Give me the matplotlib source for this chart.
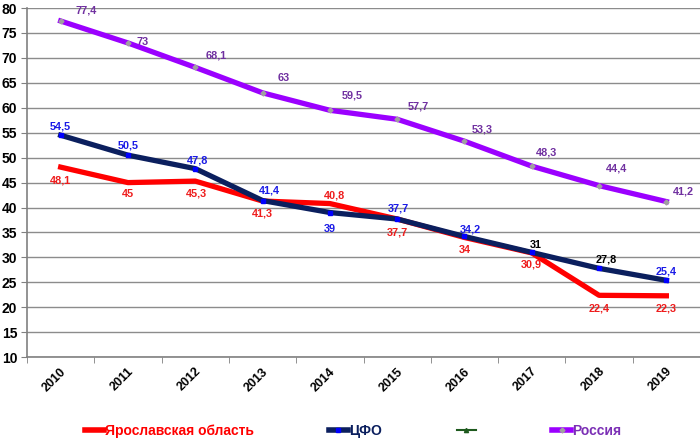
import matplotlib
matplotlib.use("Agg")
import matplotlib.pyplot as plt
import matplotlib.transforms as mtransforms
from matplotlib.lines import Line2D
import numpy as np

plt.rcParams['font.family'] = ['Liberation Sans', 'DejaVu Sans']

years = ['2010', '2011', '2012', '2013', '2014', '2015', '2016', '2017', '2018', '2019']
yaroslavl = [48.1, 45, 45.3, 41.3, 40.8, 37.7, 34, 30.9, 22.4, 22.3]
cfo = [54.5, 50.5, 47.8, 41.4, 39, 37.7, 34.2, 31, 27.8, 25.4]
russia = [77.4, 73, 68.1, 63, 59.5, 57.7, 53.3, 48.3, 44.4, 41.2]
yaroslavl_lbl = ['48,1', '45', '45,3', '41,3', '40,8', '37,7', '34', '30,9', '22,4', '22,3']
cfo_lbl = ['54,5', '50,5', '47,8', '41,4', '39', '37,7', '34,2', '31', '27,8', '25,4']
russia_lbl = ['77,4', '73', '68,1', '63', '59,5', '57,7', '53,3', '48,3', '44,4', '41,2']
series_names = ['Ярославская область', 'ЦФО', '', 'Россия']

RED = '#FF0000'
NAVY = '#0B1F5E'
VIOLET = '#9B00FF'
RED_T = '#EE1C1C'
BLUE_T = '#1A1AE6'
PURPLE_T = '#7030A0'
GREEN = '#1E5A1E'

fig = plt.figure(figsize=(7.0, 4.47), dpi=100)
ax = fig.add_axes([0.0386, 0.201, 0.9614, 0.781])

x = np.arange(len(years))
ax.plot(x, yaroslavl, color=RED, lw=3.8, zorder=3, solid_joinstyle='round')
ax.plot(x, cfo, color=NAVY, lw=3.8, zorder=4, marker='s', ms=3.5,
        mfc='#0000FF', mec='#0000FF', solid_joinstyle='round')
ax.plot(x, russia, color=VIOLET, lw=3.8, zorder=5, marker='D', ms=2.5,
        mfc='#A0A0A0', mec='#A0A0A0', solid_joinstyle='round')

ax.set_xlim(-0.5, 9.5)
ax.set_ylim(10, 80)
ax.set_yticks(range(10, 81, 5))
ax.set_yticklabels([str(v) for v in range(10, 81, 5)], fontweight='bold', fontsize=10)
ax.yaxis.grid(True, color='#8C8C8C', lw=1.0)
ax.set_axisbelow(True)
ax.set_xticks(x)
ax.set_xticks(np.arange(-0.5, 10, 1), minor=True)
ax.tick_params(axis='x', which='major', length=0, pad=6)
ax.tick_params(axis='x', which='minor', length=4, color='#808080', direction='out')
ax.tick_params(axis='y', length=4, color='#808080', pad=3)
labs = ax.set_xticklabels(years, rotation=45, ha='right', fontweight='bold', fontsize=9)
offset = mtransforms.ScaledTranslation(8 / 100, 0, fig.dpi_scale_trans)
for lab in labs:
    lab.set_transform(lab.get_transform() + offset)

for s in ['top', 'right']:
    ax.spines[s].set_visible(False)
for s in ['left', 'bottom']:
    ax.spines[s].set_color('#808080')
    ax.spines[s].set_linewidth(1.2)

fs = 7.8
px = 0.72
# Russia labels: upper right
rus_off = [(26, 11), (15, 1), (21, 12), (21, 15), (22, 15), (21, 13), (18, 12), (15, 14), (18, 17), (17, 10)]
for i, (v, t) in enumerate(zip(russia, russia_lbl)):
    dx, dy = rus_off[i]
    ax.annotate(t, (i, v), xytext=(dx * px, dy * px), textcoords='offset points',
                ha='center', va='center', color=PURPLE_T, fontsize=fs, fontweight='bold')
# CFO labels
cfo_off = [(0, 9), (0, 10), (2, 8), (7, 10), (0, -16), (1, 11), (6, 7), (4, 7), (7, 9), (0, 9)]
cfo_col = [BLUE_T] * 7 + ['black', 'black', BLUE_T]
for i, (v, t) in enumerate(zip(cfo, cfo_lbl)):
    dx, dy = cfo_off[i]
    ax.annotate(t, (i, v), xytext=(dx * px, dy * px), textcoords='offset points',
                ha='center', va='center', color=cfo_col[i], fontsize=fs, fontweight='bold')
# Yaroslavl labels
yar_off = [(0, -13), (0, -11), (1, -12), (0, -12), (5, 8), (0, -13), (0, -13), (0, -12), (0, -13), (0, -13)]
for i, (v, t) in enumerate(zip(yaroslavl, yaroslavl_lbl)):
    dx, dy = yar_off[i]
    ax.annotate(t, (i, v), xytext=(dx * px, dy * px), textcoords='offset points',
                ha='center', va='center', color=RED_T, fontsize=fs, fontweight='bold')

handles = [
    Line2D([], [], color=RED, lw=4),
    Line2D([], [], color=NAVY, lw=4, marker='s', ms=3, mfc='#0000FF', mec='#0000FF'),
    Line2D([], [], color=GREEN, lw=1.5, marker='^', ms=3),
    Line2D([], [], color=VIOLET, lw=4, marker='D', ms=2.5, mfc='#A0A0A0', mec='#A0A0A0'),
]
leg = fig.legend(handles, series_names, loc='center', bbox_to_anchor=(0.504, 0.035),
                 ncol=4, frameon=False, handlelength=1.4, handletextpad=0.05,
                 columnspacing=5.4, prop={'weight': 'bold', 'size': 10})
for txt, c in zip(leg.get_texts(), [RED, NAVY, GREEN, '#7B2FB5']):
    txt.set_color(c)

fig.savefig('out.png', dpi=100)
